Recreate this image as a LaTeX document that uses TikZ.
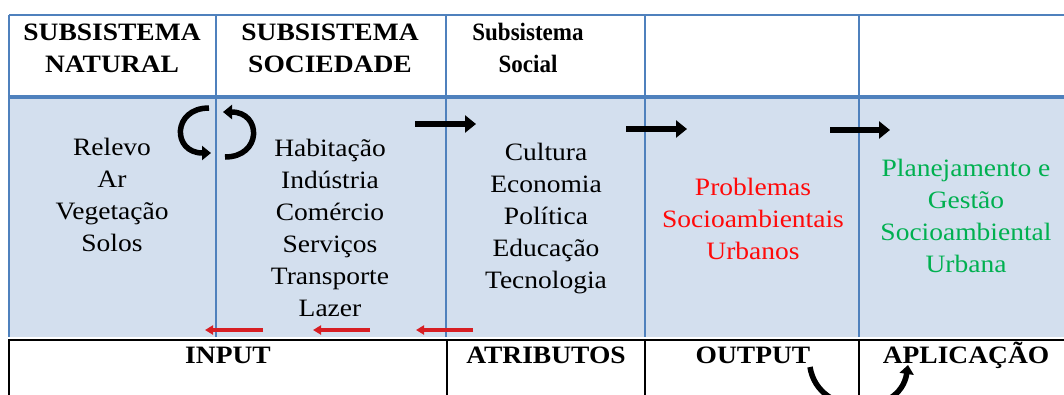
\documentclass[tikz,border=0pt]{standalone}
\usepackage{fontspec}
\setmainfont{Liberation Serif}[FakeStretch=1.1]
\newfontfamily\narrowserif{Liberation Serif}[FakeStretch=0.92]
\usetikzlibrary{arrows.meta}
\definecolor{tblue}{RGB}{79,129,189}
\definecolor{tfill}{RGB}{211,223,238}
\definecolor{tred}{RGB}{255,10,10}
\definecolor{tgreen}{RGB}{0,176,80}
\definecolor{ared}{RGB}{215,30,35}
\begin{document}
\begin{tikzpicture}[x=1pt,y=-1pt,
 body/.style={align=center, font=\fontsize{25}{32}\selectfont, inner sep=0pt},
 head/.style={align=center, font=\bfseries\fontsize{25}{32}\selectfont, inner sep=0pt},
 blk/.style={line width=6pt, -{Triangle[width=17pt,length=11pt]}},
 redarr/.style={ared, line width=4pt, -{Triangle[width=9pt,length=8pt]}},
 curv/.style={line width=5.5pt, -{Triangle[width=14pt,length=9pt]}},
 bline/.style={tblue, line width=1.2pt},
 kline/.style={black, line width=1.2pt}]
\useasboundingbox (0,0) rectangle (1064,394);
\begin{scope}
\clip (0,0) rectangle (1064,394);
% table
\fill[tfill] (9,97) rectangle (1070,337);
\draw[tblue, line width=1.5pt] (9,15) -- (1070,15);
\draw[bline] (9,15) -- (9,337);
\foreach \x in {216,446,645,859} \draw[bline] (\x,15) -- (\x,337);
\draw[tblue, line width=3.5pt] (9,97) -- (1070,97);
\draw[black, line width=2pt] (9,339.5) -- (1070,339.5);
\foreach \x in {9,447,645,859} \draw[kline] (\x,339) -- (\x,400);

% headers
\node[head] (h1) at (112,48) {SUBSISTEMA\\NATURAL};
\node[head] (h2) at (330,48) {SUBSISTEMA\\SOCIEDADE};
\node[align=center, inner sep=0pt, font=\narrowserif\bfseries\fontsize{25}{32}\selectfont] (h3) at (528,48) {Subsistema\\Social};

% body
\node[body] (c1) at (112,194.5) {Relevo\\Ar\\Vegetação\\Solos};
\node[body] (c2) at (330,227.5) {Habitação\\Indústria\\Comércio\\Serviços\\Transporte\\Lazer};
\node[body] (c3) at (546,219) {Cultura\\Economia\\Política\\Educação\\Tecnologia};
\node[body, text=tred] (c4) at (753,218.5) {Problemas\\Socioambientais\\Urbanos};
\node[body, text=tgreen] (c5) at (966,216) {Planejamento e\\Gestão\\Socioambiental\\Urbana};

% bottom row
\node[head, anchor=base] (b1) at (228,363) {INPUT};
\node[head, anchor=base] (b2) at (546,363) {ATRIBUTOS};
\node[head, anchor=base] (b3) at (753,363) {OUTPUT};
\node[head, anchor=base] (b4) at (966,363) {APLICAÇÃO};

% black arrows
\coordinate (a1s) at (415,124); \coordinate (a1e) at (476,124);
\coordinate (a2s) at (626,129); \coordinate (a2e) at (687,129);
\coordinate (a3s) at (830,130); \coordinate (a3e) at (890,130);
\draw[blk] (a1s) -- (a1e);
\draw[blk] (a2s) -- (a2e);
\draw[blk] (a3s) -- (a3e);

% red arrows
\coordinate (r1s) at (263,330); \coordinate (r1e) at (205,330);
\coordinate (r2s) at (370,330); \coordinate (r2e) at (313,330);
\coordinate (r3s) at (473,330); \coordinate (r3e) at (416,330);
\draw[redarr] (r1s) -- (r1e);
\draw[redarr] (r2s) -- (r2e);
\draw[redarr] (r3s) -- (r3e);

% curved arrows
\coordinate (cl1) at (209,108); \coordinate (cl2) at (211,153);
\draw[curv] (cl1) .. controls (172,108) and (172,153) .. (cl2);
\coordinate (cr1) at (225,157); \coordinate (cr2) at (223,112);
\draw[curv] (cr1) .. controls (262,157) and (262,112) .. (cr2);
\coordinate (u1) at (810,367); \coordinate (u2) at (908,365);
\draw[curv] (u1) .. controls (818,418) and (900,418) .. (u2);
\end{scope}
\end{tikzpicture}
\end{document}
